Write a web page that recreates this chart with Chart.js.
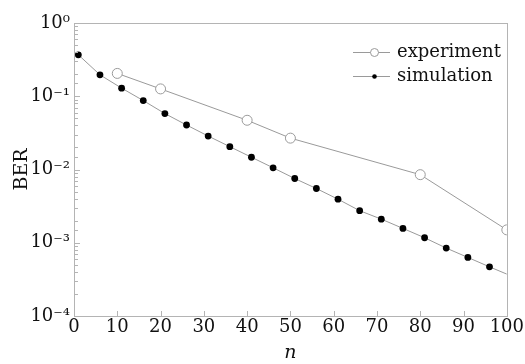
<!DOCTYPE html>
<html>
<head>
<meta charset="utf-8">
<script src="https://cdn.jsdelivr.net/npm/chart.js@4"></script>
<style>
  html, body { margin: 0; padding: 0; background: #fff; }
  #wrap { width: 525px; height: 364px; }
</style>
</head>
<body>
<div id="wrap"><canvas id="berChart" width="525" height="364"></canvas></div>
<script>
// data
const simN   = [1, 6, 11, 16, 21, 26, 31, 36, 41, 46, 51, 56, 61, 66, 71, 76, 81, 86, 91, 96, 100];
const simBER = [0.368, 0.196, 0.129, 0.0873, 0.058, 0.0405, 0.0286, 0.0205, 0.0147, 0.01055,
                0.00753, 0.0055, 0.00393, 0.00274, 0.0021, 0.00157, 0.00117, 0.000846, 0.00063, 0.000469, 0.000373];
const expN   = [10, 20, 40, 50, 80, 100];
const expBER = [0.205, 0.126, 0.047, 0.0268, 0.0085, 0.0015];
const xTicks = [0, 10, 20, 30, 40, 50, 60, 70, 80, 90, 100];
const yDecades = [1e-4, 1e-3, 1e-2, 1e-1, 1];
const seriesNames = ['experiment', 'simulation'];

const SERIF = '"DejaVu Serif", "Liberation Serif", serif';
const AXIS  = '#b4b4b4';
const LINE  = '#9a9a9a';

const sup = { '0': '⁰', '1': '¹', '2': '²', '3': '³', '4': '⁴', '-': '⁻' };
function decadeLabel(v) {
  const e = Math.round(Math.log10(v));
  return '10' + String(e).split('').map(c => sup[c]).join('');
}
function isDecade(v) {
  return yDecades.some(d => Math.abs(v / d - 1) < 1e-6);
}

// frame, inward tick marks and the legend
const framePlugin = {
  id: 'frame',
  afterDraw(chart) {
    const { ctx, chartArea: a, scales: { x, y } } = chart;
    ctx.save();
    ctx.strokeStyle = AXIS;
    ctx.lineWidth = 1;
    ctx.beginPath();
    x.ticks.forEach(t => {
      if (t.value <= x.min || t.value >= x.max) return;
      const px = Math.round(x.getPixelForValue(t.value)) + 0.5;
      ctx.moveTo(px, a.bottom); ctx.lineTo(px, a.bottom - 5);
    });
    y.ticks.forEach(t => {
      if (t.value <= y.min || t.value >= y.max) return;
      const py = Math.round(y.getPixelForValue(t.value)) + 0.5;
      const len = isDecade(t.value) ? 6 : 4;
      ctx.moveTo(a.left, py); ctx.lineTo(a.left + len, py);
    });
    ctx.stroke();
    ctx.strokeRect(Math.round(a.left) + 0.5, Math.round(a.top) + 0.5,
                   Math.round(a.right - a.left), Math.round(a.bottom - a.top));

    // legend
    const lx0 = a.left + 279, lx1 = lx0 + 37, tx = lx1 + 7;
    chart.data.datasets.forEach((ds, i) => {
      const ly = a.top + 29 + i * 24;
      ctx.strokeStyle = ds.borderColor;
      ctx.lineWidth = 1;
      ctx.beginPath(); ctx.moveTo(lx0, ly + 0.5); ctx.lineTo(lx1, ly + 0.5); ctx.stroke();
      const mx = (lx0 + lx1) / 2 + 3;
      ctx.beginPath();
      ctx.arc(mx, ly + 0.5, i === 0 ? 4 : 2.3, 0, Math.PI * 2);
      if (i === 0) { ctx.fillStyle = '#fff'; ctx.fill(); ctx.strokeStyle = ds.pointBorderColor; ctx.stroke(); }
      else { ctx.fillStyle = '#000'; ctx.fill(); }
      ctx.fillStyle = '#111';
      ctx.font = '18px ' + SERIF;
      ctx.textBaseline = 'middle';
      ctx.textAlign = 'left';
      ctx.fillText(ds.label, tx, ly);
    });
    ctx.restore();
  }
};

new Chart(document.getElementById('berChart'), {
  type: 'line',
  data: {
    datasets: [
      {
        label: seriesNames[0],
        data: expN.map((n, i) => ({ x: n, y: expBER[i] })),
        borderColor: LINE,
        borderWidth: 1,
        pointRadius: 5,
        pointBackgroundColor: '#fff',
        pointBorderColor: '#9a9a9a',
        pointBorderWidth: 1,
        tension: 0
      },
      {
        label: seriesNames[1],
        data: simN.map((n, i) => ({ x: n, y: simBER[i] })),
        borderColor: LINE,
        borderWidth: 1,
        pointRadius: c => simN[c.dataIndex] === 100 ? 0 : 3.4,
        pointBackgroundColor: '#000',
        pointBorderColor: '#000',
        pointBorderWidth: 0,
        tension: 0
      }
    ]
  },
  options: {
    responsive: false,
    animation: false,
    layout: { padding: { top: 23, right: 11, left: 0, bottom: 0 } },
    plugins: { legend: { display: false }, tooltip: { enabled: false } },
    scales: {
      x: {
        type: 'linear',
        min: 0, max: 100,
        afterBuildTicks: s => { s.ticks = xTicks.map(v => ({ value: v })); },
        afterFit: s => { s.height = 48; },
        grid: { display: false, drawTicks: false },
        border: { display: false },
        ticks: { color: '#111', font: { family: SERIF, size: 18 }, padding: 1, maxRotation: 0 },
        title: { display: true, text: 'n', color: '#111', font: { family: SERIF, size: 19, style: 'italic' }, padding: { top: 0, bottom: 0 } }
      },
      y: {
        type: 'logarithmic',
        min: 1e-4, max: 1,
        afterFit: s => { s.width = 74; },
        grid: { display: false, drawTicks: false },
        border: { display: false },
        ticks: {
          autoSkip: false,
          color: '#111',
          font: { family: SERIF, size: 18 },
          padding: 4,
          callback: v => isDecade(v) ? decadeLabel(v) : ''
        },
        title: { display: true, text: 'BER', color: '#111', font: { family: SERIF, size: 19 }, padding: { top: 11, bottom: 0 } }
      }
    }
  },
  plugins: [framePlugin]
});
</script>
</body>
</html>
